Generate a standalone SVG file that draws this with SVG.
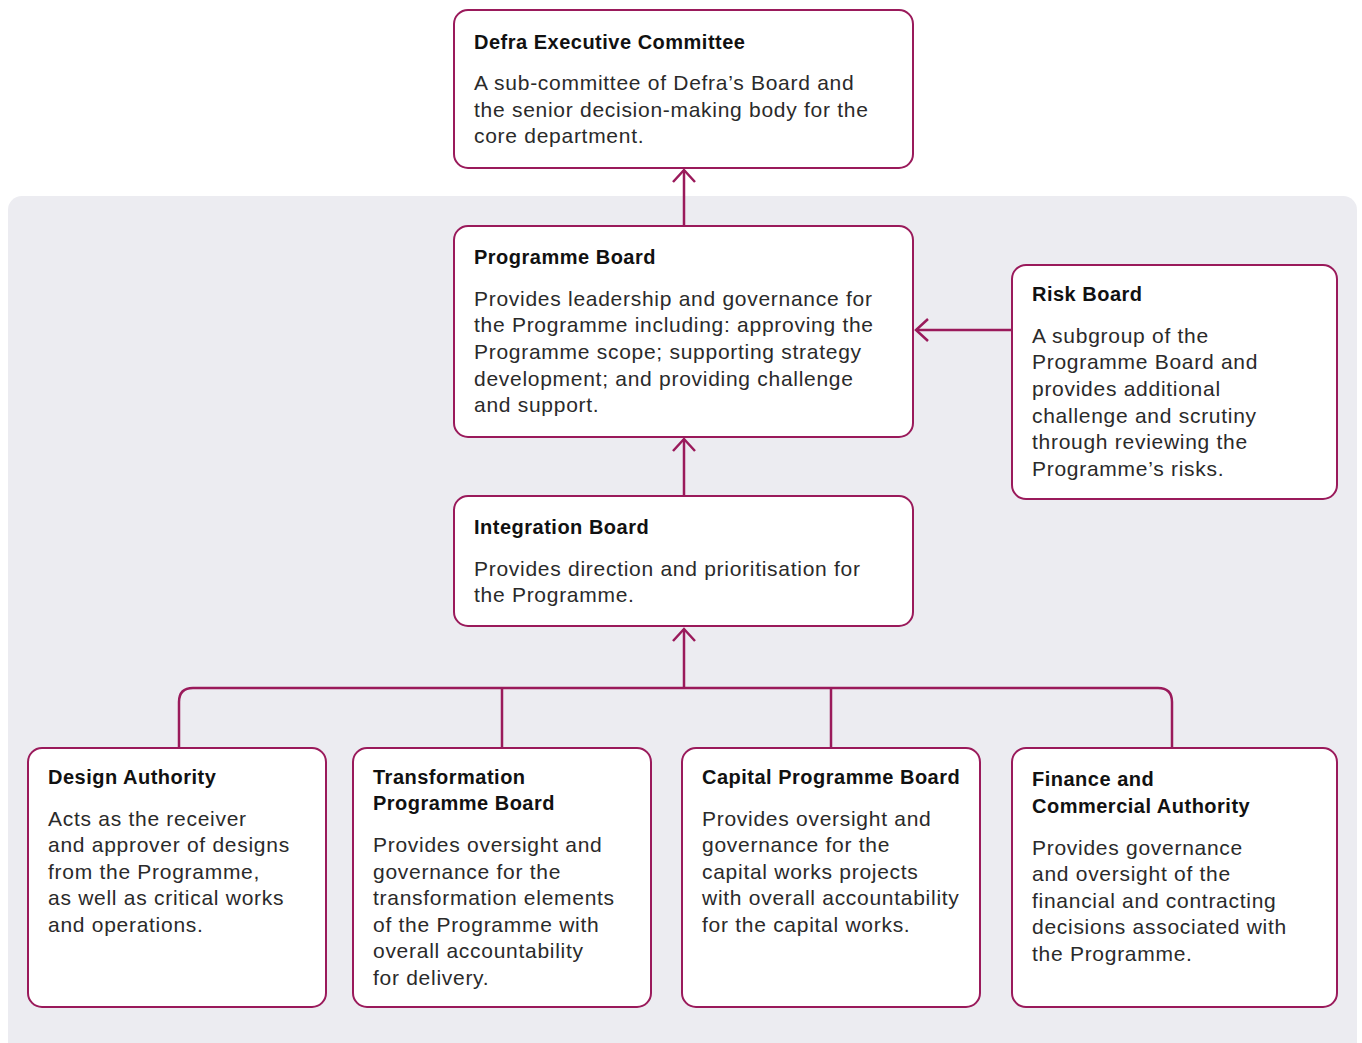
<svg xmlns="http://www.w3.org/2000/svg" width="1362" height="1043" viewBox="0 0 1362 1043">
<defs>
<style>
.box{fill:#fff;stroke:#9a1a5b;stroke-width:2}
.con{fill:none;stroke:#9a1a5b;stroke-width:2.5}
.t{font-family:"Liberation Sans",Arial,sans-serif;font-size:20px;font-weight:bold;fill:#111;letter-spacing:0.5px}
.b{font-family:"Liberation Sans",Arial,sans-serif;font-size:21px;fill:#2a2a2a;letter-spacing:0.72px}
</style>
<marker id="ah" viewBox="0 0 16 24" refX="13" refY="12" markerWidth="16" markerHeight="24" markerUnits="userSpaceOnUse" orient="auto">
<path d="M1,1 L13,12 L1,23" fill="none" stroke="#9a1a5b" stroke-width="2.5"/>
</marker>
</defs>
<rect id="panel" x="8" y="196" width="1349" height="860" rx="14" fill="#ececf1"/>
<g id="connectors">
<path class="con" d="M684,226 V170" marker-end="url(#ah)"/>
<path class="con" d="M684,496 V439" marker-end="url(#ah)"/>
<path class="con" d="M1012,330 H916" marker-end="url(#ah)"/>
<path class="con" d="M684,688 V629" marker-end="url(#ah)"/>
<path class="con" d="M179,748 V702 Q179,688 193,688 H1158 Q1172,688 1172,702 V748"/>
<path class="con" d="M502,688 V748"/>
<path class="con" d="M831,688 V748"/>
</g>
<g id="defra">
<rect class="box" x="454" y="10" width="459" height="158" rx="14"/>
<text class="t" x="474" y="49">Defra Executive Committee</text>
<text class="b"><tspan x="474" y="90">A sub-committee of Defra’s Board and</tspan><tspan x="474" y="117">the senior decision-making body for the</tspan><tspan x="474" y="143">core department.</tspan></text>
</g>
<g id="programme-board">
<rect class="box" x="454" y="226" width="459" height="211" rx="14"/>
<text class="t" x="474" y="264">Programme Board</text>
<text class="b"><tspan x="474" y="306">Provides leadership and governance for</tspan><tspan x="474" y="332">the Programme including: approving the</tspan><tspan x="474" y="359">Programme scope; supporting strategy</tspan><tspan x="474" y="386">development; and providing challenge</tspan><tspan x="474" y="412">and support.</tspan></text>
</g>
<g id="risk-board">
<rect class="box" x="1012" y="265" width="325" height="234" rx="14"/>
<text class="t" x="1032" y="301">Risk Board</text>
<text class="b"><tspan x="1032" y="343">A subgroup of the</tspan><tspan x="1032" y="369">Programme Board and</tspan><tspan x="1032" y="396">provides additional</tspan><tspan x="1032" y="423">challenge and scrutiny</tspan><tspan x="1032" y="449">through reviewing the</tspan><tspan x="1032" y="476">Programme’s risks.</tspan></text>
</g>
<g id="integration-board">
<rect class="box" x="454" y="496" width="459" height="130" rx="14"/>
<text class="t" x="474" y="534">Integration Board</text>
<text class="b"><tspan x="474" y="576">Provides direction and prioritisation for</tspan><tspan x="474" y="602">the Programme.</tspan></text>
</g>
<g id="design-authority">
<rect class="box" x="28" y="748" width="298" height="259" rx="14"/>
<text class="t" x="48" y="784">Design Authority</text>
<text class="b"><tspan x="48" y="826">Acts as the receiver</tspan><tspan x="48" y="852">and approver of designs</tspan><tspan x="48" y="879">from the Programme,</tspan><tspan x="48" y="905">as well as critical works</tspan><tspan x="48" y="932">and operations.</tspan></text>
</g>
<g id="transformation-board">
<rect class="box" x="353" y="748" width="298" height="259" rx="14"/>
<text class="t"><tspan x="373" y="784">Transformation</tspan><tspan x="373" y="810">Programme Board</tspan></text>
<text class="b"><tspan x="373" y="852">Provides oversight and</tspan><tspan x="373" y="879">governance for the</tspan><tspan x="373" y="905">transformation elements</tspan><tspan x="373" y="932">of the Programme with</tspan><tspan x="373" y="958">overall accountability</tspan><tspan x="373" y="985">for delivery.</tspan></text>
</g>
<g id="capital-board">
<rect class="box" x="682" y="748" width="298" height="259" rx="14"/>
<text class="t" x="702" y="784">Capital Programme Board</text>
<text class="b"><tspan x="702" y="826">Provides oversight and</tspan><tspan x="702" y="852">governance for the</tspan><tspan x="702" y="879">capital works projects</tspan><tspan x="702" y="905">with overall accountability</tspan><tspan x="702" y="932">for the capital works.</tspan></text>
</g>
<g id="finance-authority">
<rect class="box" x="1012" y="748" width="325" height="259" rx="14"/>
<text class="t"><tspan x="1032" y="786">Finance and</tspan><tspan x="1032" y="813">Commercial Authority</tspan></text>
<text class="b"><tspan x="1032" y="855">Provides governance</tspan><tspan x="1032" y="881">and oversight of the</tspan><tspan x="1032" y="908">financial and contracting</tspan><tspan x="1032" y="934">decisions associated with</tspan><tspan x="1032" y="961">the Programme.</tspan></text>
</g>
</svg>
